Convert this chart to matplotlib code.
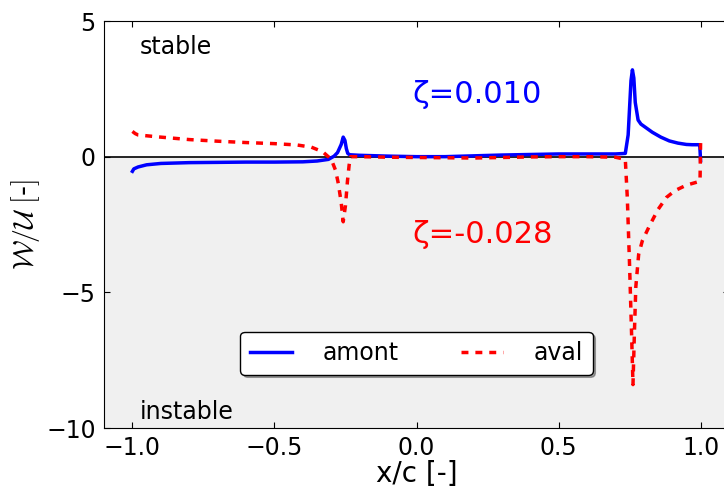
import matplotlib
matplotlib.use('Agg')
import matplotlib.pyplot as plt

plt.rcParams['mathtext.fontset'] = 'cm'

# amont (upstream) curve, zeta = 0.010
amont_x = [-1.0, -0.995, -0.98, -0.95, -0.9, -0.8, -0.7, -0.6, -0.5, -0.4,
           -0.35, -0.31, -0.29, -0.278, -0.265, -0.258, -0.252, -0.247, -0.242,
           -0.235, -0.2, -0.1, 0.0, 0.1, 0.2, 0.3, 0.4, 0.5, 0.6, 0.7,
           0.735, 0.745, 0.75, 0.755, 0.76, 0.765, 0.77, 0.78, 0.79, 0.81,
           0.83, 0.86, 0.89, 0.92, 0.95, 0.97, 0.99, 0.997, 1.0]
amont_y = [-0.54, -0.45, -0.38, -0.30, -0.25, -0.22, -0.21, -0.20, -0.20, -0.19,
           -0.16, -0.10, 0.02, 0.15, 0.45, 0.72, 0.6, 0.3, 0.12,
           0.07, 0.05, 0.02, 0.0, 0.0, 0.03, 0.06, 0.08, 0.1, 0.1, 0.1,
           0.12, 0.8, 1.8, 2.8, 3.2, 2.9, 2.0, 1.35, 1.2, 1.05,
           0.9, 0.72, 0.58, 0.5, 0.45, 0.44, 0.44, 0.44, -0.15]

# aval (downstream) curve, zeta = -0.028
aval_x = [-1.0, -0.99, -0.98, -0.9, -0.8, -0.7, -0.6, -0.5, -0.42, -0.37,
          -0.33, -0.30, -0.285, -0.275, -0.265, -0.258, -0.25, -0.243, -0.237,
          -0.232, -0.2, -0.1, 0.0, 0.1, 0.2, 0.3, 0.4, 0.5, 0.6, 0.7,
          0.735, 0.742, 0.75, 0.757, 0.762, 0.767, 0.772, 0.782, 0.795, 0.82,
          0.85, 0.88, 0.91, 0.95, 0.99, 0.998, 1.0]
aval_y = [0.93, 0.85, 0.8, 0.72, 0.63, 0.57, 0.52, 0.48, 0.43, 0.35,
          0.18, -0.1, -0.5, -1.0, -1.7, -2.4, -1.8, -0.9, -0.3,
          0.0, 0.0, -0.02, -0.03, -0.04, -0.05, -0.03, -0.01, 0.0, 0.0, -0.02,
          -0.1, -1.5, -4.0, -6.5, -8.4, -6.5, -4.8, -3.6, -3.1, -2.55,
          -1.95, -1.5, -1.25, -1.05, -0.93, -0.9, 0.5]

x_ticks = [-1.0, -0.5, 0.0, 0.5, 1.0]
y_ticks = [5, 0, -5, -10]

fig = plt.figure(figsize=(7.24, 4.9), dpi=100)
ax = fig.add_axes([104 / 724, 62 / 490, 625 / 724, 407 / 490])

ax.axhspan(-10, 0, color='#f0f0f0', zorder=0)
ax.axhline(0, color='black', lw=1.2, zorder=1)

ax.plot(amont_x, amont_y, color='blue', lw=2.5, label='amont', zorder=2)
ax.plot(aval_x, aval_y, color='red', lw=2.5, ls=(0, (2, 2)), label='aval', zorder=3)

ax.set_xlim(-1.1, 1.1)
ax.set_ylim(-10, 5)
ax.set_xticks(x_ticks)
ax.set_yticks(y_ticks)
ax.tick_params(direction='in', top=True, right=True, labelsize=17, length=4, pad=6)

ax.set_xlabel('x/c [-]', fontsize=20, labelpad=0)
ax.set_ylabel(r'$\mathcal{W}/\mathcal{U}\ [$-$]$', fontsize=20, labelpad=3)

ax.text(-0.975, 4.05, 'stable', fontsize=17, va='center', ha='left')
ax.text(-0.975, -9.4, 'instable', fontsize=17, va='center', ha='left')
ax.text(-0.015, 2.28, 'ζ=0.010', fontsize=22, color='blue', va='center', ha='left')
ax.text(-0.015, -2.87, 'ζ=-0.028', fontsize=22, color='red', va='center', ha='left')

ax.legend(loc='center', bbox_to_anchor=(0.5, 0.184), ncol=2, fontsize=17,
          fancybox=True, shadow=True, framealpha=1, edgecolor='black',
          handlelength=1.8, handletextpad=1.3, columnspacing=2.6)

fig.savefig('out.png', dpi=100)
